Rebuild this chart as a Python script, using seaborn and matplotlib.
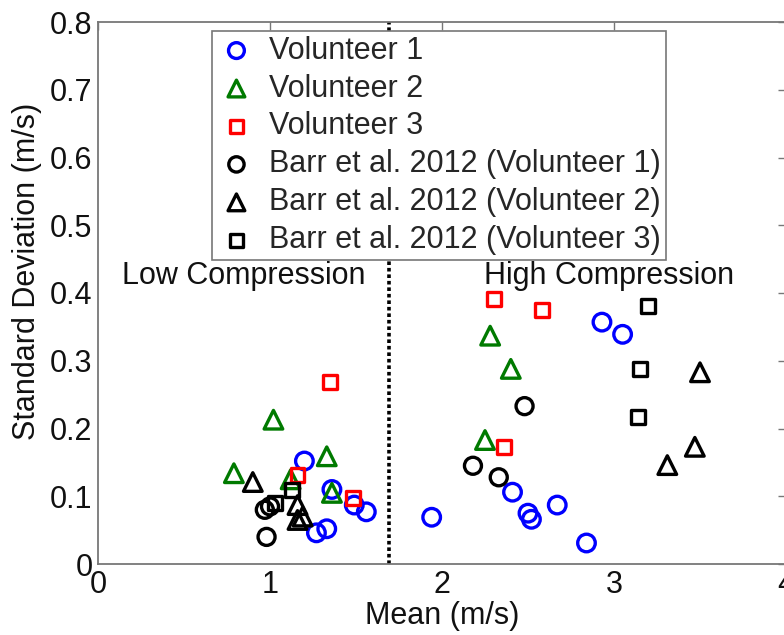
import matplotlib
matplotlib.use("Agg")
import matplotlib.pyplot as plt
import seaborn as sns
import numpy as np
import pandas as pd

# ---- data ----
v1_mean = [1.20, 1.36, 1.49, 1.56, 1.27, 1.33, 1.94, 2.41, 2.50, 2.52, 2.67, 2.84, 2.93, 3.05]
v1_sd   = [0.152, 0.110, 0.087, 0.077, 0.046, 0.052, 0.069, 0.106, 0.075, 0.066, 0.087, 0.031, 0.357, 0.339]

v2_mean = [0.79, 1.02, 1.12, 1.33, 1.36, 2.28, 2.40, 2.25]
v2_sd   = [0.134, 0.213, 0.125, 0.159, 0.105, 0.337, 0.288, 0.183]

v3_mean = [1.35, 1.16, 1.48, 2.30, 2.58, 2.36]
v3_sd   = [0.269, 0.131, 0.098, 0.391, 0.375, 0.173]

b1_mean = [0.98, 0.97, 1.00, 2.18, 2.33, 2.48]
b1_sd   = [0.040, 0.080, 0.085, 0.145, 0.128, 0.233]

b2_mean = [0.90, 1.16, 1.16, 1.19, 3.50, 3.47, 3.31]
b2_sd   = [0.121, 0.087, 0.065, 0.070, 0.283, 0.173, 0.146]

b3_mean = [1.03, 1.13, 3.20, 3.15, 3.14]
b3_sd   = [0.090, 0.109, 0.381, 0.288, 0.217]

labels = ["Volunteer 1", "Volunteer 2", "Volunteer 3",
          "Barr et al. 2012 (Volunteer 1)", "Barr et al. 2012 (Volunteer 2)",
          "Barr et al. 2012 (Volunteer 3)"]
x_ticks = [0, 1, 2, 3, 4]
y_ticks = [0, 0.1, 0.2, 0.3, 0.4, 0.5, 0.6, 0.7, 0.8]
y_tick_labels = ["0", "0.1", "0.2", "0.3", "0.4", "0.5", "0.6", "0.7", "0.8"]
divider_x = 1.69

sns.set_style("white")
plt.rcParams['font.family'] = ['Liberation Sans', 'DejaVu Sans']
FS = 22

fig = plt.figure(figsize=(7.84, 6.35), dpi=100)
ax = fig.add_axes([98/784, (635-564)/635, 688/784, 542/635])

series = [
    (v1_mean, v1_sd, 'o', '#0000ff', 160),
    (v2_mean, v2_sd, '^', '#007a00', 180),
    (v3_mean, v3_sd, 's', '#ff0000', 100),
    (b1_mean, b1_sd, 'o', 'black', 150),
    (b2_mean, b2_sd, '^', 'black', 180),
    (b3_mean, b3_sd, 's', 'black', 100),
]
for (xs, ys, m, c, s), lab in zip(series, labels):
    df = pd.DataFrame({"x": xs, "y": ys})
    sns.scatterplot(data=df, x="x", y="y", marker=m, s=s, ax=ax,
                    facecolors='none', edgecolor=c, linewidth=2.4, label=lab)

ax.axvline(divider_x, color='black', linestyle=(0, (1, 0.8)), linewidth=2.6, zorder=1)

ax.text(0.85, 0.425, "Low Compression", fontsize=FS, ha='center', va='center', color='#111111')
ax.text(2.97, 0.425, "High Compression", fontsize=FS, ha='center', va='center', color='#111111')

ax.set_xlim(0, 4)
ax.set_ylim(0, 0.8)
ax.set_xticks(x_ticks)
ax.set_xticklabels([str(t) for t in x_ticks])
ax.set_yticks(y_ticks)
ax.set_yticklabels(y_tick_labels)
ax.tick_params(direction='in', length=6, width=1, color='#777777',
               labelsize=FS, top=True, right=True, labelcolor='#111111', pad=4)
for sp in ax.spines.values():
    sp.set_color('#777777')
    sp.set_linewidth(1.3)

ax.set_xlabel("Mean (m/s)", fontsize=FS, color='#111111', labelpad=1)
ax.set_ylabel("Standard Deviation (m/s)", fontsize=FS, color='#111111')
ax.yaxis.set_label_coords(-0.081, 0.539)

leg = ax.legend(loc='upper left', bbox_to_anchor=(212/784, 1-31/635),
                bbox_transform=fig.transFigure, fontsize=FS, frameon=True,
                fancybox=False, edgecolor='#777777', framealpha=1.0,
                borderaxespad=0, labelspacing=0.26, handletextpad=0.43,
                borderpad=0.15, handlelength=1.3, markerscale=0.9)
leg.get_frame().set_linewidth(1.2)
leg.set_zorder(10)

fig.savefig("out.png", dpi=100)
